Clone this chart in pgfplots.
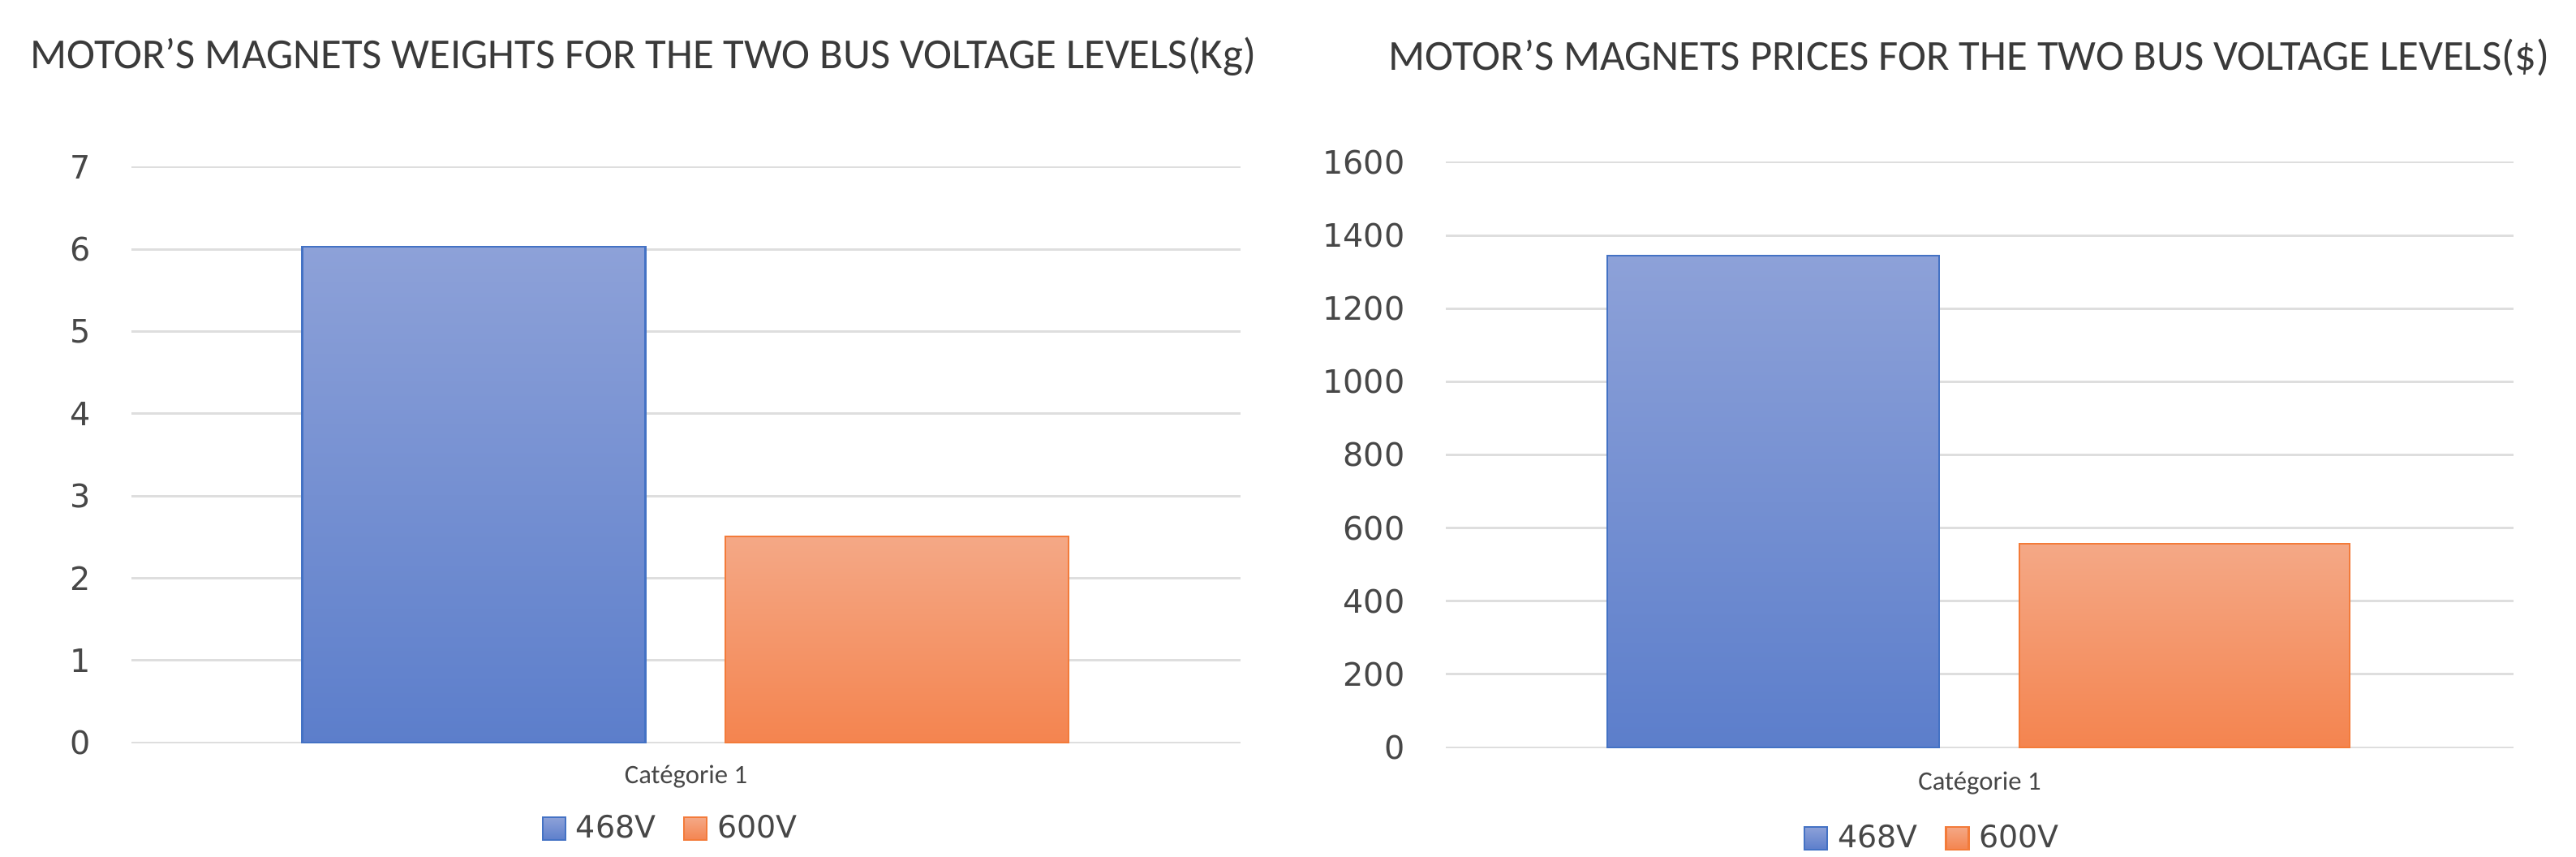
\documentclass[border=0pt]{standalone}
\usepackage{fontspec}
\setmainfont{DejaVu Sans}
\newfontfamily\carlito{Carlito}
\usepackage{pgfplots}
\pgfplotsset{compat=1.18}

\definecolor{titlegray}{HTML}{3A3A3A}
\definecolor{tickgray}{HTML}{474747}
\definecolor{gridgray}{HTML}{DEDEDE}
\definecolor{bluetop}{HTML}{8DA1D8}
\definecolor{bluebot}{HTML}{5C7ECB}
\definecolor{blueedge}{HTML}{4472C4}
\definecolor{orangetop}{HTML}{F4A886}
\definecolor{orangebot}{HTML}{F4844F}
\definecolor{orangeedge}{HTML}{F37B3A}

\pgfplotsset{
  magnetbars/.style={
    scale only axis, anchor=south west,
    xmin=0, xmax=1,
    ybar,
    axis line style={draw=none},
    major tick length=0pt,
    ymajorgrids, grid style={gridgray, line width=0.8pt},
    xtick={0.5}, xticklabels={Catégorie 1},
    xticklabel style={font=\carlito\fontsize{9.3}{11}\selectfont, text=tickgray,
                      inner sep=0pt, anchor=north, yshift=-2.7mm},
    yticklabel style={font=\fontsize{11.3}{13}\selectfont, text=tickgray,
                      inner sep=0pt, anchor=east, xshift=-5mm},
    /pgf/number format/assume math mode=true,
    /pgf/number format/1000 sep={},
    legend columns=2,
    legend style={draw=none, fill=none, inner sep=0pt, outer sep=0pt,
                  font=\fontsize{10.8}{13}\selectfont, text=tickgray,
                  nodes={inner sep=0pt},
                  /tikz/every odd column/.append style={column sep=1.2mm},
                  /tikz/every even column/.append style={column sep=3.4mm}},
    legend image code/.code={\draw[##1] (0mm,-1.4mm) rectangle (2.8mm,1.4mm);},
  },
  bluebar/.style={draw=blueedge, line width=0.6pt, top color=bluetop, bottom color=bluebot},
  orangebar/.style={draw=orangeedge, line width=0.6pt, top color=orangetop, bottom color=orangebot},
}

\begin{document}
\begin{tikzpicture}
\path[use as bounding box] (0,0) rectangle (31.75cm,10.55cm);

% weights (kg)
\begin{axis}[magnetbars,
  at={(1.62cm,1.40cm)}, width=13.67cm, height=7.09cm,
  ymin=0, ymax=7, ytick={0,1,...,7},
  legend style={at={(0.370,-0.150)}, anchor=west},
]
\addplot[bluebar, bar width=4.23cm, bar shift=-2.615cm] coordinates {(0.5,6.03)};
\addlegendentry{468V}
\addplot[orangebar, bar width=4.23cm, bar shift=2.60cm] coordinates {(0.5,2.51)};
\addlegendentry{600V}
\end{axis}

% prices ($)
\begin{axis}[magnetbars,
  at={(17.82cm,1.34cm)}, width=13.16cm, height=7.21cm,
  ymin=0, ymax=1600, ytick={0,200,...,1600},
  xticklabel style={yshift=-0.2mm},
  legend style={at={(0.335,-0.155)}, anchor=west},
]
\addplot[bluebar, bar width=4.09cm, bar shift=-2.545cm] coordinates {(0.5,1345)};
\addlegendentry{468V}
\addplot[orangebar, bar width=4.07cm, bar shift=2.525cm] coordinates {(0.5,558)};
\addlegendentry{600V}
\end{axis}

\node[anchor=base, font=\carlito\fontsize{15}{18}\selectfont, text=titlegray]
  at (7.93cm,9.71cm) {MOTOR’S MAGNETS WEIGHTS FOR THE TWO BUS VOLTAGE LEVELS(Kg)};
\node[anchor=base, font=\carlito\fontsize{15}{18}\selectfont, text=titlegray]
  at (24.27cm,9.69cm) {MOTOR’S MAGNETS PRICES FOR THE TWO BUS VOLTAGE LEVELS(\$)};
\end{tikzpicture}
\end{document}
